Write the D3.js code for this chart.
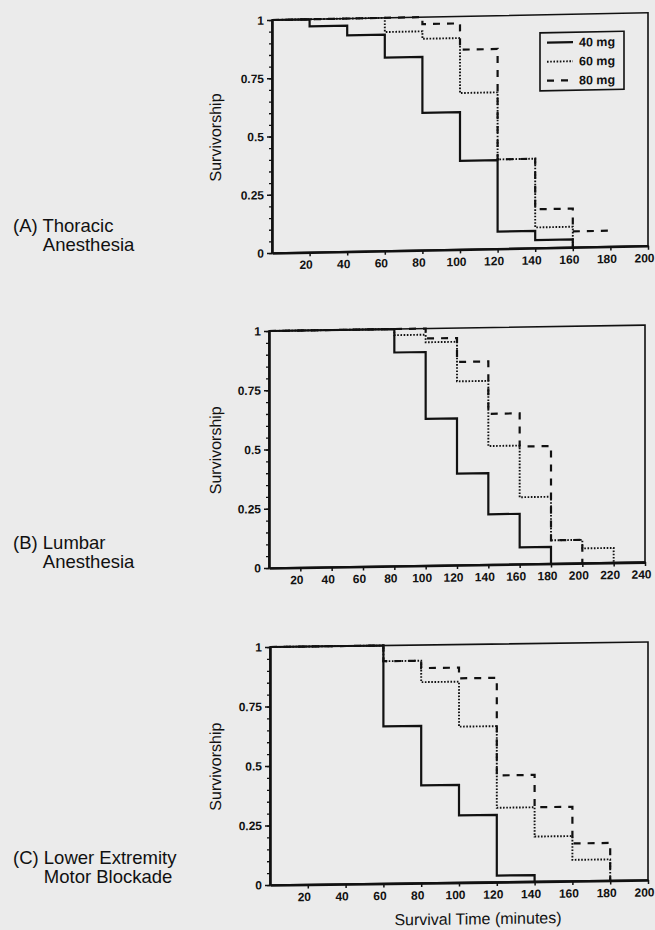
<!DOCTYPE html>
<html><head><meta charset="utf-8">
<script src="https://cdn.jsdelivr.net/npm/d3@7"></script>
<style>
html,body{margin:0;padding:0;background:#ebebeb;}
svg{display:block;font-family:"Liberation Sans",Arial,Helvetica,sans-serif;}
</style></head><body>
<svg id="chart" width="655" height="930"></svg>
<script>
// ---------- DATA ----------
const doseGroups = ["40 mg", "60 mg", "80 mg"];
const yTickValues = [0, 0.25, 0.5, 0.75, 1];
const yTickLabels = ["0", "0.25", "0.5", "0.75", "1"];
const xTicksAC = [20, 40, 60, 80, 100, 120, 140, 160, 180, 200];
const xTicksB = [20, 40, 60, 80, 100, 120, 140, 160, 180, 200, 220, 240];
const panelTitles = [["(A) Thoracic", "Anesthesia"], ["(B) Lumbar", "Anesthesia"], ["(C) Lower Extremity", "Motor Blockade"]];
const yAxisTitle = "Survivorship";
const xAxisTitle = "Survival Time (minutes)";

// (A) Thoracic anesthesia
const timeA40 = [0, 20, 40, 60, 80, 100, 120, 140, 160];
const survA40 = [1, 0.970, 0.928, 0.829, 0.589, 0.380, 0.073, 0.034, 0];
const timeA60 = [0, 60, 80, 100, 120, 140, 160];
const survA60 = [1, 0.939, 0.907, 0.671, 0.383, 0.088, 0];
const timeA80 = [0, 80, 100, 120, 140, 160, 180];
const survA80 = [1, 0.970, 0.857, 0.383, 0.166, 0.068, 0.068];

// (B) Lumbar anesthesia
const timeB40 = [0, 80, 100, 120, 140, 160, 180];
const survB40 = [1, 0.901, 0.619, 0.386, 0.212, 0.070, 0];
const timeB60 = [0, 80, 100, 120, 140, 160, 180, 200, 220];
const survB60 = [1, 0.974, 0.942, 0.775, 0.500, 0.282, 0.098, 0.062, 0];
const timeB80 = [0, 100, 120, 140, 160, 180, 200];
const survB80 = [1, 0.958, 0.857, 0.636, 0.496, 0.098, 0];

// (C) Lower extremity motor blockade
const timeC40 = [0, 60, 80, 100, 120, 140];
const survC40 = [1, 0.660, 0.410, 0.282, 0.027, 0];
const timeC60 = [0, 60, 80, 100, 120, 140, 160, 180];
const survC60 = [1, 0.934, 0.844, 0.655, 0.312, 0.189, 0.089, 0];
const timeC80 = [0, 60, 80, 100, 120, 140, 160, 180];
const survC80 = [1, 0.934, 0.903, 0.858, 0.448, 0.312, 0.158, 0];

// ---------- LAYOUT ----------
const panels = [
  {xMax: 200, xTicks: xTicksAC, x0: 272, x1: 648, yTop: 20, yBot: 253, skew: 1.1,
   title: panelTitles[0], t1: 232, legend: true, xTitle: false,
   series: [[timeA40, survA40], [timeA60, survA60], [timeA80, survA80]]},
  {xMax: 240, xTicks: xTicksB, x0: 269, x1: 645, yTop: 331, yBot: 568, skew: 0.9,
   title: panelTitles[1], t1: 549, legend: false, xTitle: false,
   series: [[timeB40, survB40], [timeB60, survB60], [timeB80, survB80]]},
  {xMax: 200, xTicks: xTicksAC, x0: 270, x1: 648, yTop: 647, yBot: 885, skew: 0.75,
   title: panelTitles[2], t1: 864, legend: false, xTitle: true,
   series: [[timeC40, survC40], [timeC60, survC60], [timeC80, survC80]]}
];

const lineStyles = [
  {dash: null, width: 2.2},
  {dash: "1.6,1.6", width: 1.9},
  {dash: "7,7", width: 2.2}
];
const ink = "#111";
const fontStack = '"Liberation Sans",Arial,sans-serif';
const titleSize = 18.5;
const titleLead = 19;

const svg = d3.select("#chart");

panels.forEach(p => {
  const x = d3.scaleLinear().domain([0, p.xMax]).range([p.x0, p.x1]);
  const y = d3.scaleLinear().domain([0, 1]).range([p.yBot, p.yTop]);

  const g = svg.append("g")
    .attr("transform", `translate(${p.x0},0) skewY(${-p.skew}) translate(${-p.x0},0)`);

  // frame (top & right)
  g.append("rect")
    .attr("x", x(0)).attr("y", y(1))
    .attr("width", x(p.xMax) - x(0)).attr("height", y(0) - y(1))
    .attr("fill", "none").attr("stroke", ink).attr("stroke-width", 1.6);

  // minor y ticks
  const yMinor = g.append("g").attr("transform", `translate(${x(0)},0)`)
    .call(d3.axisLeft(y).tickValues(d3.range(0, 1.0001, 0.05)).tickSize(3).tickSizeOuter(0).tickFormat(""));
  yMinor.select(".domain").remove();
  yMinor.selectAll("line").attr("stroke", ink).attr("stroke-width", 1.3);

  // major y axis
  const yAx = g.append("g").attr("transform", `translate(${x(0)},0)`)
    .call(d3.axisLeft(y).tickValues(yTickValues).tickSize(5).tickSizeOuter(0).tickPadding(3)
      .tickFormat((d, i) => yTickLabels[i]));
  yAx.select(".domain").attr("stroke", ink).attr("stroke-width", 2.6);
  yAx.selectAll("line").attr("stroke", ink).attr("stroke-width", 1.5);
  yAx.selectAll("text").attr("fill", ink).attr("font-size", 12).attr("font-weight", "bold")
    .attr("font-family", fontStack);

  // x axis
  const xAx = g.append("g").attr("transform", `translate(0,${y(0)})`)
    .call(d3.axisBottom(x).tickValues(p.xTicks).tickSize(4).tickSizeOuter(0).tickPadding(4));
  xAx.select(".domain").attr("stroke", ink).attr("stroke-width", 2.6);
  xAx.selectAll("line").attr("stroke", ink).attr("stroke-width", 1.5);
  xAx.selectAll("text").attr("fill", ink).attr("font-size", 12).attr("font-weight", "bold")
    .attr("dx", -4).attr("font-family", fontStack);

  // survival step curves
  const line = d3.line().curve(d3.curveStepAfter).x(d => x(d[0])).y(d => y(d[1]));
  p.series.forEach((s, i) => {
    const pts = s[0].map((t, k) => [t, s[1][k]]);
    g.append("path").datum(pts)
      .attr("d", line)
      .attr("fill", "none")
      .attr("stroke", ink)
      .attr("stroke-width", lineStyles[i].width)
      .attr("stroke-dasharray", lineStyles[i].dash);
  });

  // y title
  g.append("text")
    .attr("transform", `translate(221,${(p.yTop + p.yBot) / 2}) rotate(-90)`)
    .attr("text-anchor", "middle").attr("font-size", 16).attr("fill", ink)
    .text(yAxisTitle);

  // x title
  if (p.xTitle) {
    g.append("text")
      .attr("x", 478).attr("y", 927)
      .attr("text-anchor", "middle").attr("font-size", 16).attr("fill", ink)
      .text(xAxisTitle);
  }

  // legend
  if (p.legend) {
    const lg = g.append("g");
    lg.append("rect").attr("x", 540).attr("y", 38).attr("width", 84).attr("height", 58)
      .attr("fill", "#ebebeb").attr("stroke", ink).attr("stroke-width", 1.6);
    doseGroups.forEach((name, i) => {
      const ry = 48 + i * 19;
      lg.append("line").attr("x1", 547).attr("x2", 573).attr("y1", ry).attr("y2", ry)
        .attr("stroke", ink).attr("stroke-width", lineStyles[i].width)
        .attr("stroke-dasharray", lineStyles[i].dash);
      lg.append("text").attr("x", 579).attr("y", ry + 4.5).attr("font-size", 12.5)
        .attr("font-weight", "bold").attr("fill", ink).text(name);
    });
  }

  // panel title (not skewed)
  const t = svg.append("text").attr("font-size", titleSize).attr("fill", ink);
  const prefix = p.title[0].split(" ")[0] + " ";
  t.append("tspan").attr("x", 13).attr("y", p.t1).text(p.title[0]);
  const tmp = svg.append("text").attr("font-size", titleSize)
    .style("white-space", "pre").text(prefix);
  const pw = tmp.node().getComputedTextLength();
  tmp.remove();
  t.append("tspan").attr("x", 13 + pw).attr("y", p.t1 + titleLead).text(p.title[1]);
});
</script></body></html>
